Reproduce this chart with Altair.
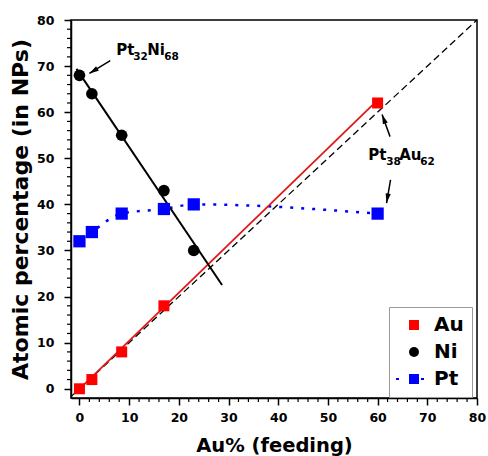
import altair as alt
import pandas as pd

# ---- data ----
elements = ["Au", "Ni", "Pt"]
colors = ["#ff0000", "#000000", "#0000ff"]
point_sizes = [121, 150, 121]

feed_au = [0, 2.5, 8.5, 17, 60]
au_vals = [0, 2, 8, 18, 62]
feed_ni = [0, 2.5, 8.5, 17, 23]
ni_vals = [68, 64, 55, 43, 30]
feed_pt = [0, 2.5, 8.5, 17, 23, 60]
pt_vals = [32, 34, 38, 39, 40, 38]

au_fit_x = [-0.8, 60]
au_fit_y = [-0.9, 62.6]
ni_fit_x = [-0.6, 28.7]
ni_fit_y = [69.4, 22.5]
diag_x = [-1.7, 80]

major_ticks = [0, 10, 20, 30, 40, 50, 60, 70, 80]
minor_ticks = [v for v in range(2, 80, 2) if v % 10 != 0]

ann_x = [7.4, 58.1]
ann_y = [72.3, 49.7]
ann_pieces = [["Pt", "32", "Ni", "68"], ["Pt", "38", "Au", "62"]]
ann_dx = [[0, 17, 31, 48], [0, 18, 31, 52]]

arrow_tail_x = [6.2, 62.5, 62.6]
arrow_tail_y = [71.2, 54.7, 45.3]
arrow_tip_x = [2.0, 60.9, 61.8]
arrow_tip_y = [68.4, 59.5, 40.3]
arrow_angle = [238, 340, 190]

FONT = "DejaVu Sans"
XDOM = [-1.7, 80]
YDOM = [-2, 80]

pts = pd.DataFrame(
    {"feed": feed_au + feed_ni + feed_pt,
     "val": au_vals + ni_vals + pt_vals,
     "element": ["Au"] * len(feed_au) + ["Ni"] * len(feed_ni) + ["Pt"] * len(feed_pt)}
)
pt_df = pd.DataFrame({"feed": feed_pt, "val": pt_vals})
au_fit = pd.DataFrame({"feed": au_fit_x, "val": au_fit_y})
ni_fit = pd.DataFrame({"feed": ni_fit_x, "val": ni_fit_y})
diag = pd.DataFrame({"feed": diag_x, "val": diag_x})
arrows = pd.DataFrame({"feed": arrow_tail_x, "val": arrow_tail_y,
                       "x2": arrow_tip_x, "y2": arrow_tip_y, "ang": arrow_angle})
heads = pd.DataFrame({"feed": arrow_tip_x, "val": arrow_tip_y, "ang": arrow_angle})
minor_x_df = pd.DataFrame({"feed": minor_ticks})
minor_y_df = pd.DataFrame({"val": minor_ticks})

xscale = alt.Scale(domain=XDOM, nice=False, zero=False)
yscale = alt.Scale(domain=YDOM, nice=False, zero=False)

xaxis = alt.Axis(values=major_ticks, title="Au% (feeding)", grid=False,
                 tickSize=7, tickWidth=1.5, tickColor="black",
                 domainColor="black", domainWidth=1.5,
                 labelFont=FONT, labelFontSize=12.5, labelFontWeight="bold",
                 labelColor="black", labelPadding=6, labelFlush=False,
                 titleFont=FONT, titleFontSize=19.5, titleFontWeight="bold",
                 titleColor="black", titlePadding=13)
yaxis = alt.Axis(values=major_ticks, title="Atomic percentage (in NPs)", grid=False,
                 tickSize=7, tickWidth=1.5, tickColor="black",
                 domainColor="black", domainWidth=1.5,
                 labelFont=FONT, labelFontSize=12.5, labelFontWeight="bold",
                 labelColor="black", labelPadding=10, labelFlush=False,
                 titleFont=FONT, titleFontSize=22, titleFontWeight="bold",
                 titleColor="black", titlePadding=4)

X = alt.X("feed:Q", scale=xscale, axis=xaxis)
Y = alt.Y("val:Q", scale=yscale, axis=yaxis)

diag_line = alt.Chart(diag).mark_line(color="black", strokeWidth=1.3,
                                      strokeDash=[7, 4]).encode(x=X, y=Y)
au_line = alt.Chart(au_fit).mark_line(color="#e01818", strokeWidth=1.8).encode(x=X, y=Y)
ni_line = alt.Chart(ni_fit).mark_line(color="black", strokeWidth=2).encode(x=X, y=Y)
pt_line = alt.Chart(pt_df).mark_line(color="#0000ff", strokeWidth=2.5, strokeDash=[3, 8],
                                     interpolate="monotone").encode(x=X, y=Y)

points = alt.Chart(pts).mark_point(filled=True, opacity=1).encode(
    x=X, y=Y,
    color=alt.Color("element:N", scale=alt.Scale(domain=elements, range=colors), legend=None),
    shape=alt.Shape("element:N", scale=alt.Scale(domain=elements,
                                                 range=["square", "circle", "square"]),
                    legend=None),
    size=alt.Size("element:N", scale=alt.Scale(domain=elements, range=point_sizes),
                  legend=None),
)

pt_symbol = ("M-1,-1H1V1H-1Z "
             "M-3.6,-0.2H-3.0V0.2H-3.6Z "
             "M1.4,-0.2H2.0V0.2H1.4Z")
legend = alt.Legend(title=None, orient="none", legendX=318, legendY=287,
                    padding=8, strokeColor="#999999", fillColor="white",
                    labelFont=FONT, labelFontSize=20, labelFontWeight="bold",
                    labelColor="black", symbolSize=100, rowPadding=7,
                    labelOffset=10, symbolOffset=7, symbolStrokeWidth=0,
                    symbolOpacity=1)
legend_layer = alt.Chart(pts).mark_point(filled=True, size=100, opacity=1).encode(
    x=X, y=Y,
    color=alt.Color("element:N", scale=alt.Scale(domain=elements, range=colors),
                    legend=legend),
    shape=alt.Shape("element:N", scale=alt.Scale(domain=elements,
                                                 range=["square", "circle", pt_symbol]),
                    legend=legend),
).transform_filter("false")

minor_x = alt.Chart(minor_x_df).mark_rule(color="black", strokeWidth=1.2).encode(
    x=X, y=alt.value(378), y2=alt.value(382))
minor_y = alt.Chart(minor_y_df).mark_rule(color="black", strokeWidth=1.2).encode(
    y=Y, x=alt.value(0), x2=alt.value(-4))

arrow_lines = alt.Chart(arrows).mark_rule(color="black", strokeWidth=1.5).encode(
    x=X, y=Y, x2="x2:Q", y2="y2:Q")
arrow_heads = alt.Chart(heads).mark_point(
    filled=True, color="black", size=90, opacity=1,
    shape="M0,0L0.55,2L-0.55,2Z").encode(
    x=X, y=Y, angle=alt.Angle("ang:Q", scale=None))

texts = []
for a in range(len(ann_x)):
    for i, piece in enumerate(ann_pieces[a]):
        sub = i % 2 == 1
        df = pd.DataFrame({"feed": [ann_x[a]], "val": [ann_y[a]], "t": [piece]})
        texts.append(
            alt.Chart(df).mark_text(
                align="left", baseline="alphabetic", font=FONT, fontWeight="bold",
                fontSize=10.5 if sub else 15, dx=ann_dx[a][i], dy=5 if sub else 0,
                color="black").encode(x=X, y=Y, text="t:N"))

chart = alt.layer(
    diag_line, pt_line, au_line, ni_line, points, legend_layer,
    minor_x, minor_y, arrow_lines, arrow_heads, *texts
).resolve_scale(color="independent", shape="independent", size="independent").properties(
    width=406, height=378,
    autosize=alt.AutoSizeParams(type="none"),
    padding={"left": 71, "top": 20, "right": 11, "bottom": 58},
    background="white",
).configure_view(stroke="black", strokeWidth=1.5)

chart.save("out.html", embed_options={"renderer": "svg", "actions": False})
